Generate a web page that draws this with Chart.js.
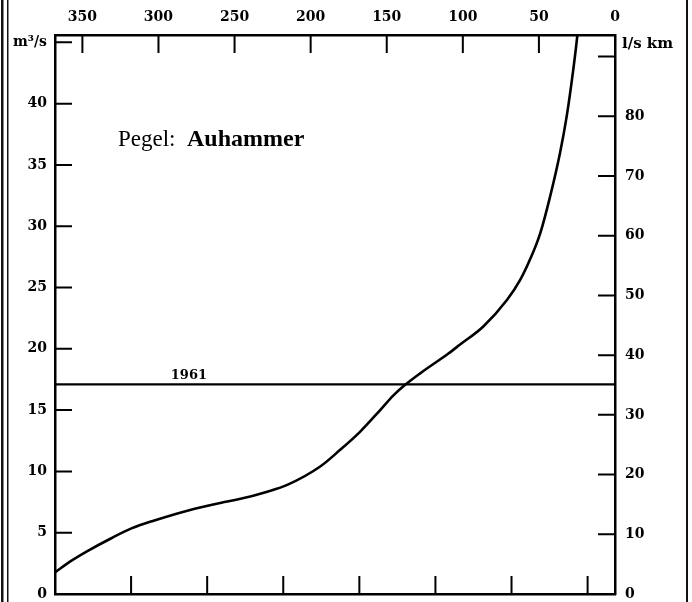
<!DOCTYPE html>
<html>
<head>
<meta charset="utf-8">
<script src="https://cdn.jsdelivr.net/npm/chart.js@4/dist/chart.umd.min.js"></script>
<style>
  html, body { margin: 0; padding: 0; background: #fff; }
  #wrap { width: 692px; height: 602px; position: relative; }
</style>
</head>
<body>
<div id="wrap"><canvas id="c" width="692" height="602"></canvas></div>
<script>
// Flow-duration curve, gauge Auhammer: days on which a discharge is reached or exceeded
const durationDays = [367.7, 357.4, 346.7, 331, 317.8, 302.7, 281, 258.7, 248.2, 228.5, 215.4, 193.7, 180.6, 167.4, 154.3, 145.6, 137.9, 128.0, 109.7, 101.8, 86.7, 70.9, 62.4, 55.8, 49.2, 42.7, 36.1, 31.7, 27.4, 24.8, 24.0];
const dischargeM3s = [1.8, 2.7, 3.5, 4.55, 5.35, 6.0, 6.8, 7.45, 7.7, 8.35, 8.9, 10.4, 11.76, 13.25, 15.0, 16.2, 17.06, 18.0, 19.6, 20.35, 21.8, 24.0, 25.6, 27.3, 29.4, 32.4, 36.0, 39.0, 42.8, 45.5, 46.6];

// mean discharge of the year 1961
const year1961Label = '1961';
const year1961Discharge = 17.1;

// axis ticks
const dayTicks = [0, 50, 100, 150, 200, 250, 300, 350];
const dayMinorTicks = [18, 68, 118, 168, 218, 268, 318];
const dischargeTicks = [0, 5, 10, 15, 20, 25, 30, 35, 40, 45];
const specificTicks = [0, 10, 20, 30, 40, 50, 60, 70, 80, 90];

const dayMax = 368;
const qMax = 45.6;
const specificPerM3s = 2.053; // l/s km per m³/s (catchment area)

const FONT = "'DejaVu Serif', 'Liberation Serif', serif";

const frame = {
  id: 'frame',
  beforeDraw(chart) {
    const ctx = chart.ctx;
    ctx.save();
    ctx.fillStyle = '#fff';
    ctx.fillRect(0, 0, chart.width, chart.height);
    // page edges
    ctx.fillStyle = '#111';
    ctx.fillRect(1, 0, 2.5, chart.height);
    ctx.fillRect(7, 0, 1.5, chart.height);
    ctx.fillRect(686, 0, 2, chart.height);
    ctx.restore();
  },
  afterDraw(chart) {
    const { ctx, chartArea: a, scales } = chart;
    ctx.save();
    ctx.strokeStyle = '#000';
    ctx.lineWidth = 2;
    const L = 17;
    ctx.beginPath();
    dayTicks.forEach(v => {
      if (v === 0) return;
      const x = scales.xTop.getPixelForValue(v);
      ctx.moveTo(x, a.top); ctx.lineTo(x, a.top + L + 1);
    });
    dayMinorTicks.forEach(v => {
      const x = scales.x.getPixelForValue(v);
      ctx.moveTo(x, a.bottom); ctx.lineTo(x, a.bottom - L - 1);
    });
    dischargeTicks.forEach(v => {
      if (v === 0) return;
      const y = scales.y.getPixelForValue(v);
      ctx.moveTo(a.left, y); ctx.lineTo(a.left + L, y);
    });
    specificTicks.forEach(v => {
      if (v === 0) return;
      const y = scales.y2.getPixelForValue(v);
      ctx.moveTo(a.right, y); ctx.lineTo(a.right - L, y);
    });
    ctx.stroke();

    // unit of the right axis
    ctx.fillStyle = '#000';
    ctx.font = "bold 15px " + FONT;
    ctx.textAlign = 'left';
    ctx.textBaseline = 'middle';
    ctx.fillText('l/s km', a.right + 7, scales.y.getPixelForValue(45) + 2);

    // year label above the 1961 line
    ctx.font = "bold 13px " + FONT;
    ctx.textAlign = 'center';
    ctx.textBaseline = 'alphabetic';
    ctx.fillText(year1961Label, scales.x.getPixelForValue(280), scales.y.getPixelForValue(year1961Discharge) - 5);

    // gauge title
    ctx.textAlign = 'left';
    const ty = 146;
    ctx.font = "23px 'Liberation Serif', serif";
    ctx.fillText('Pegel:', 118, ty);
    ctx.font = "bold 24px 'Liberation Serif', serif";
    ctx.fillText('Auhammer', 187, ty);
    ctx.restore();
  }
};

const border = { display: true, color: '#000', width: 2.5 };
const tickFont = { family: FONT, weight: 'bold', size: 14 };
const noPadding = s => { s.paddingTop = 0; s.paddingBottom = 0; s.paddingLeft = 0; s.paddingRight = 0; };

new Chart(document.getElementById('c'), {
  type: 'line',
  data: {
    datasets: [
      {
        label: 'Dauerlinie',
        data: durationDays.map((d, i) => ({ x: d, y: dischargeM3s[i] })),
        borderColor: '#000',
        borderWidth: 2.6,
        pointRadius: 0,
        cubicInterpolationMode: 'monotone',
        xAxisID: 'x', yAxisID: 'y'
      },
      {
        label: year1961Label,
        data: [{ x: dayMax, y: year1961Discharge }, { x: 0, y: year1961Discharge }],
        borderColor: '#000',
        borderWidth: 2.2,
        pointRadius: 0,
        xAxisID: 'x', yAxisID: 'y'
      }
    ]
  },
  options: {
    responsive: false,
    animation: false,
    layout: { padding: 0 },
    plugins: { legend: { display: false }, tooltip: { enabled: false } },
    scales: {
      x: {
        type: 'linear', position: 'bottom', reverse: true, min: 0, max: dayMax,
        grid: { display: false }, border,
        ticks: { display: false },
        afterFit(s) { s.height = 8; noPadding(s); }
      },
      xTop: {
        type: 'linear', position: 'top', reverse: true, min: 0, max: dayMax,
        grid: { display: false, drawTicks: false }, border,
        afterBuildTicks(s) { s.ticks = dayTicks.map(v => ({ value: v })); },
        ticks: { color: '#000', font: tickFont, padding: 9, maxRotation: 0, autoSkip: false },
        afterFit(s) { s.height = 35; noPadding(s); }
      },
      y: {
        type: 'linear', position: 'left', min: 0, max: qMax,
        grid: { display: false, drawTicks: false }, border,
        afterBuildTicks(s) { s.ticks = dischargeTicks.map(v => ({ value: v })); },
        ticks: {
          color: '#000', font: tickFont, padding: 8,
          callback: v => (v === 45 ? 'm³/s' : v)
        },
        afterFit(s) { s.width = 55; noPadding(s); }
      },
      y2: {
        type: 'linear', position: 'right', min: 0, max: qMax * specificPerM3s,
        grid: { display: false, drawTicks: false }, border,
        afterBuildTicks(s) { s.ticks = specificTicks.map(v => ({ value: v })); },
        ticks: {
          color: '#000', font: tickFont, padding: 10,
          callback: v => (v === 90 ? '' : v)
        },
        afterFit(s) { s.width = 77; noPadding(s); }
      }
    }
  },
  plugins: [frame]
});
</script>
</body>
</html>
